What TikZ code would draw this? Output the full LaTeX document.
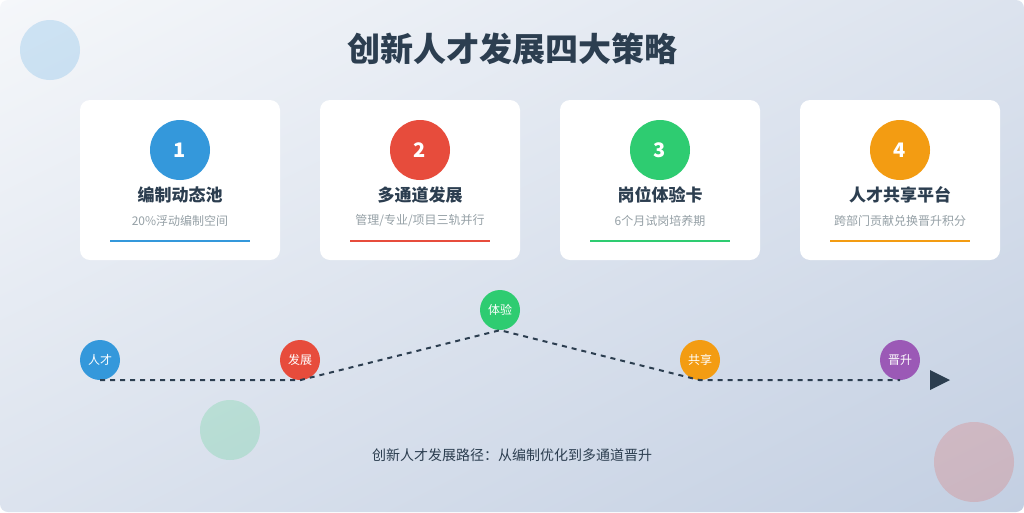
\documentclass[tikz,border=0pt]{standalone}
\usepackage{fontspec}
\setmainfont{Noto Sans CJK SC}
\usetikzlibrary{positioning, shadings}
\definecolor{ink}{HTML}{2C3E50}
\definecolor{muted}{HTML}{95A0A6}
\definecolor{cblue}{HTML}{3498DB}
\definecolor{cred}{HTML}{E74C3C}
\definecolor{cgreen}{HTML}{2ECC71}
\definecolor{corange}{HTML}{F39C12}
\definecolor{cpurple}{HTML}{9B59B6}
\definecolor{bgtl}{HTML}{F5F7FA}
\definecolor{bgmid}{HTML}{DCE3EE}
\definecolor{bgbr}{HTML}{C3CFE2}

\tikzset{
  card/.style = {fill=white, rounded corners=10pt, minimum width=200pt, minimum height=160pt, inner sep=0pt},
  badge/.style = {circle, minimum size=60pt, inner sep=0pt, text=white, font=\fontsize{20}{24}\selectfont\bfseries},
  cardtitle/.style = {text=ink, font=\fontsize{17}{20}\selectfont\bfseries},
  cardnote/.style = {text=muted, font=\fontsize{12}{14}\selectfont},
  waypoint/.style = {circle, minimum size=40pt, inner sep=0pt, text=white, font=\fontsize{12}{14}\selectfont},
  route/.style = {ink, line width=2pt, dash pattern=on 5pt off 5pt}
}

\begin{document}
\begin{tikzpicture}[x=1pt, y=1pt]
\useasboundingbox (0,0) rectangle (1024,-512);
\fill[white] (0,0) rectangle (1024,-512);
\shade[rounded corners=8pt, upper left=bgtl, upper right=bgmid, lower left=bgmid, lower right=bgbr] (0,0) rectangle (1024,-512);

% decoration
\fill[cblue, opacity=0.2] (50,-50) circle (30);
\fill[cgreen, opacity=0.2] (230,-430) circle (30);
\fill[cred, opacity=0.2] (974,-462) circle (40);

\node[text=ink, font=\fontsize{33}{40}\selectfont\bfseries] (head) at (512,-49) {创新人才发展四大策略};

% cards
\node[card] (c1) at (180,-180) {};
\node[badge, fill=cblue] (n1) at (180,-150) {1};
\node[cardtitle] (t1) at (180,-195) {编制动态池};
\node[cardnote] (s1) at (180,-221) {20\%浮动编制空间};
\draw[cblue, line width=2pt] (110,-241) -- (250,-241);

\node[card] (c2) at (420,-180) {};
\node[badge, fill=cred] (n2) at (420,-150) {2};
\node[cardtitle] (t2) at (420,-195) {多通道发展};
\node[cardnote] (s2) at (420,-221) {管理/专业/项目三轨并行};
\draw[cred, line width=2pt] (350,-241) -- (490,-241);

\node[card] (c3) at (660,-180) {};
\node[badge, fill=cgreen] (n3) at (660,-150) {3};
\node[cardtitle] (t3) at (660,-195) {岗位体验卡};
\node[cardnote] (s3) at (660,-221) {6个月试岗培养期};
\draw[cgreen, line width=2pt] (590,-241) -- (730,-241);

\node[card] (c4) at (900,-180) {};
\node[badge, fill=corange] (n4) at (900,-150) {4};
\node[cardtitle] (t4) at (900,-195) {人才共享平台};
\node[cardnote] (s4) at (900,-221) {跨部门贡献兑换晋升积分};
\draw[corange, line width=2pt] (830,-241) -- (970,-241);

% path
\node[waypoint, fill=cblue] (a1) at (100,-360) {人才};
\node[waypoint, fill=cred] (a2) at (300,-360) {发展};
\node[waypoint, fill=cgreen] (a3) at (500,-310) {体验};
\node[waypoint, fill=corange] (a4) at (700,-360) {共享};
\node[waypoint, fill=cpurple] (a5) at (900,-360) {晋升};
\draw[route] (a1.south) -- (a2.south) -- (a3.south) -- (a4.south) -- (a5.south);
\fill[ink] (930,-370) -- (950,-380) -- (930,-390) -- cycle;

\node[text=ink, font=\fontsize{14}{16}\selectfont] (foot) at (512,-455) {创新人才发展路径：从编制优化到多通道晋升};
\end{tikzpicture}
\end{document}
